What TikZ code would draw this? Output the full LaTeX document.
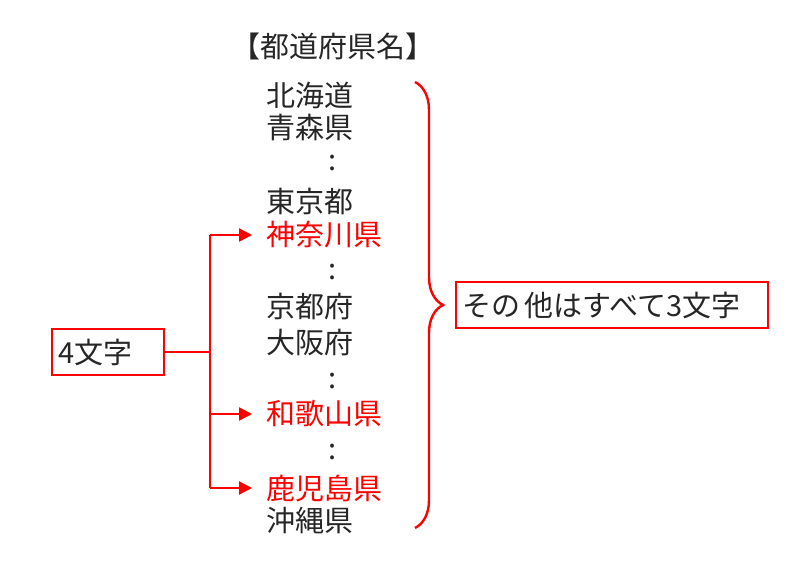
\documentclass[tikz,border=0pt]{standalone}
\usepackage{fontspec}
\setmainfont{Noto Sans CJK JP}
\usetikzlibrary{arrows.meta,decorations.pathreplacing}

\begin{document}
\begin{tikzpicture}[x=1pt,y=-1pt]
        \tikzset{pref/.style = {anchor=west,inner sep=2pt,font=\fontsize{29}{32}\selectfont,text=black!85}}
        \tikzset{prefr/.style = {pref,text=red}}
        \tikzset{dots/.style = {inner sep=1pt,font=\fontsize{29}{32}\selectfont,text=black!85}}
        \tikzset{lbl/.style = {draw=red,line width=2.2pt,anchor=west,align=left,inner xsep=6pt,minimum height=46pt,font=\fontsize{29}{32}\selectfont,text=black!85}}
        \tikzset{edge/.style = {red,line width=2.4pt}}
        \tikzset{edged/.style = {-{Triangle[length=13pt,width=13pt]},red,line width=2.4pt,shorten >=12pt}}
        \useasboundingbox (0,0) rectangle (800,580);
        % list
        \node[dots] (title) at (333,46) {【都道府県名】};
        \node[pref] (hokkaido) at (264,95) {北海道};
        \node[pref] (aomori) at (264,127) {青森県};
        \node[dots] (c1) at (333,163) {:};
        \node[pref] (tokyo) at (264,201) {東京都};
        \node[prefr] (kanagawa) at (264,235) {神奈川県};
        \node[dots] (c2) at (333,272) {:};
        \node[pref] (kyoto) at (264,307) {京都府};
        \node[pref] (osaka) at (264,343) {大阪府};
        \node[dots] (c3) at (333,381) {:};
        \node[prefr] (wakayama) at (264,414) {和歌山県};
        \node[dots] (c4) at (333,452) {:};
        \node[prefr] (kagoshima) at (264,488) {鹿児島県};
        \node[pref] (okinawa) at (264,521) {沖縄県};
        
        % boxes
        \node[lbl,text width=100pt] (four) at (51,352) {4文字};
        \node[lbl,text width=300pt] (rest) at (455,305) {その\hspace{0.15em}他はすべて3文字};
        
        % brace
        \coordinate (bt) at (415,82);
        \coordinate (bb) at (415,528);
        \draw[edge,decorate,decoration={brace,amplitude=28pt}] (bt) -- (bb);
        
        % lines
        \coordinate (j) at (210,352);
        \draw[edge] (four.east) -- (j);
        \draw[edge] (kanagawa.west -| j) -- (kagoshima.west -| j);
        \draw[edged] (kanagawa.west -| j) -- (kanagawa.west);
        \draw[edged] (wakayama.west -| j) -- (wakayama.west);
        \draw[edged] (kagoshima.west -| j) -- (kagoshima.west);
\end{tikzpicture}
\end{document}
